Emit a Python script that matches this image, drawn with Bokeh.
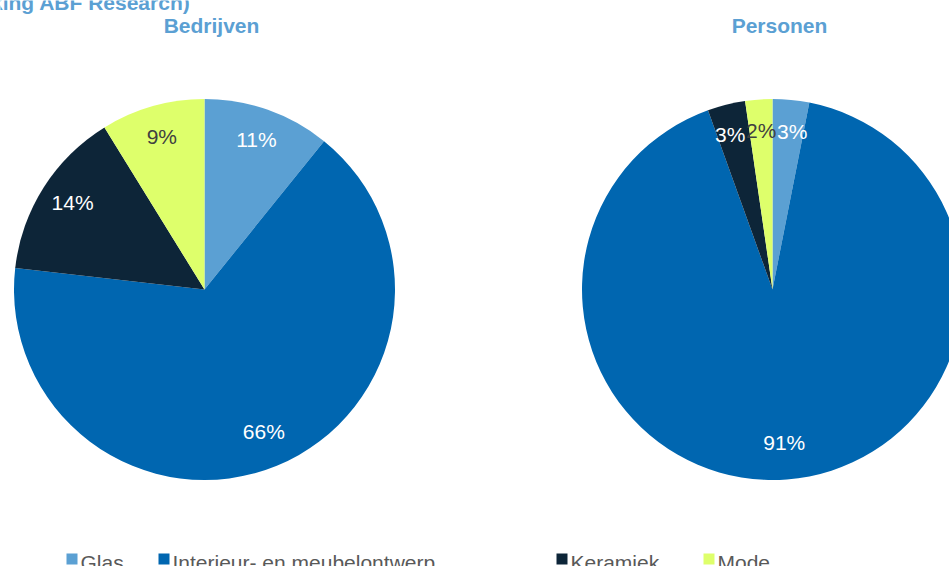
import math
from bokeh.plotting import figure
from bokeh.models import Range1d, ColumnDataSource
from bokeh.core.properties import value
from bokeh.embed import file_html
from bokeh.resources import INLINE

# ---- data ----
categories = ["Glas", "Interieur- en meubelontwerp", "Keramiek", "Mode"]
bedrijven = [10.8, 66.0, 14.4, 8.8]
personen = [3.1, 91.4, 3.2, 2.3]
titles = ["Bedrijven", "Personen"]
source_note = "bewerking ABF Research)"

# ---- style ----
colors = ["#5BA0D3", "#0066B0", "#0D2538", "#DEFF6B"]
label_colors = ["white", "white", "white", "#404040"]
title_color = "#5BA0D3"
FONT = value("Liberation Sans")

W, H = 949, 566
TXT_DY = 7   # baseline correction for svg text (alphabetic)
LBL_DY = 3   # correction for centred labels


def X(sx):
    return sx


def Y(sy):
    return H - sy


p = figure(width=W, height=H, x_range=Range1d(0, W), y_range=Range1d(0, H),
           output_backend="svg", toolbar_location=None, min_border=0)
p.axis.visible = False
p.grid.visible = False
p.outline_line_color = None
p.background_fill_color = "white"
p.border_fill_color = "white"

R = 190.5
pie_centers = [(204, 289), (772, 289)]
title_x = [211, 779]


def spread(xs, ys, widths, gap=2):
    # push apart labels that would overlap horizontally within the same band
    xs = list(xs)
    n = len(xs)
    for _ in range(100):
        moved = False
        for a in range(n):
            for b in range(n):
                if a == b or xs[a] > xs[b] or abs(ys[a] - ys[b]) >= 22:
                    continue
                need = (widths[a] + widths[b]) / 2 + gap
                d = xs[b] - xs[a]
                if d < need - 0.01:
                    s = (need - d) / 2
                    xs[a] -= s
                    xs[b] += s
                    moved = True
        if not moved:
            break
    return xs


for (cx, cy), vals, t, tx in zip(pie_centers, [bedrijven, personen], titles, title_x):
    total = sum(vals)
    starts, ends, mids = [], [], []
    cum = 0.0
    for v in vals:
        a0 = math.pi / 2 - 2 * math.pi * cum / total
        cum += v
        a1 = math.pi / 2 - 2 * math.pi * cum / total
        starts.append(a0)
        ends.append(a1)
        mids.append((a0 + a1) / 2)
    src = ColumnDataSource(dict(x=[X(cx)] * len(vals), y=[Y(cy)] * len(vals),
                                start=starts, end=ends, color=colors, cat=categories))
    p.wedge(x="x", y="y", radius=R, start_angle="start", end_angle="end",
            direction="clock", fill_color="color", line_color=None, source=src)

    rl = 0.82 * R
    lx = [X(cx) + rl * math.cos(m) for m in mids]
    ly = [Y(cy) + rl * math.sin(m) + LBL_DY for m in mids]
    labels = [f"{round(100 * v / total)}%" for v in vals]
    widths = [len(s) * 11 + 7 for s in labels]
    lx = spread(lx, ly, widths)
    p.text(x=lx, y=ly, text=labels, text_color=label_colors, text_font=FONT,
           text_font_size="21px", text_align="center", text_baseline="middle")

    p.text(x=[X(tx)], y=[Y(32 - TXT_DY)], text=[t], text_color=title_color, text_font=FONT,
           text_font_size="21px", text_font_style="bold", text_align="center",
           text_baseline="alphabetic")

# clipped source note at top-left
p.text(x=[X(190)], y=[Y(9 - TXT_DY)], text=[source_note], text_color=title_color, text_font=FONT,
       text_font_size="21px", text_font_style="bold", text_align="right",
       text_baseline="alphabetic")

# legend (manual, clipped at bottom like the reference)
legend_x = [66, 158, 556, 703]
sq = 11
p.rect(x=[X(lx0 + sq / 2) for lx0 in legend_x], y=[Y(553 + sq / 2)] * 4, width=sq, height=sq,
       fill_color=colors, line_color=None)
p.text(x=[X(lx0 + sq + 3) for lx0 in legend_x], y=[Y(569 - TXT_DY)] * 4, text=categories,
       text_color="#595959", text_font=FONT, text_font_size="21px",
       text_align="left", text_baseline="alphabetic")

open("out.html", "w").write(file_html(p, INLINE))
